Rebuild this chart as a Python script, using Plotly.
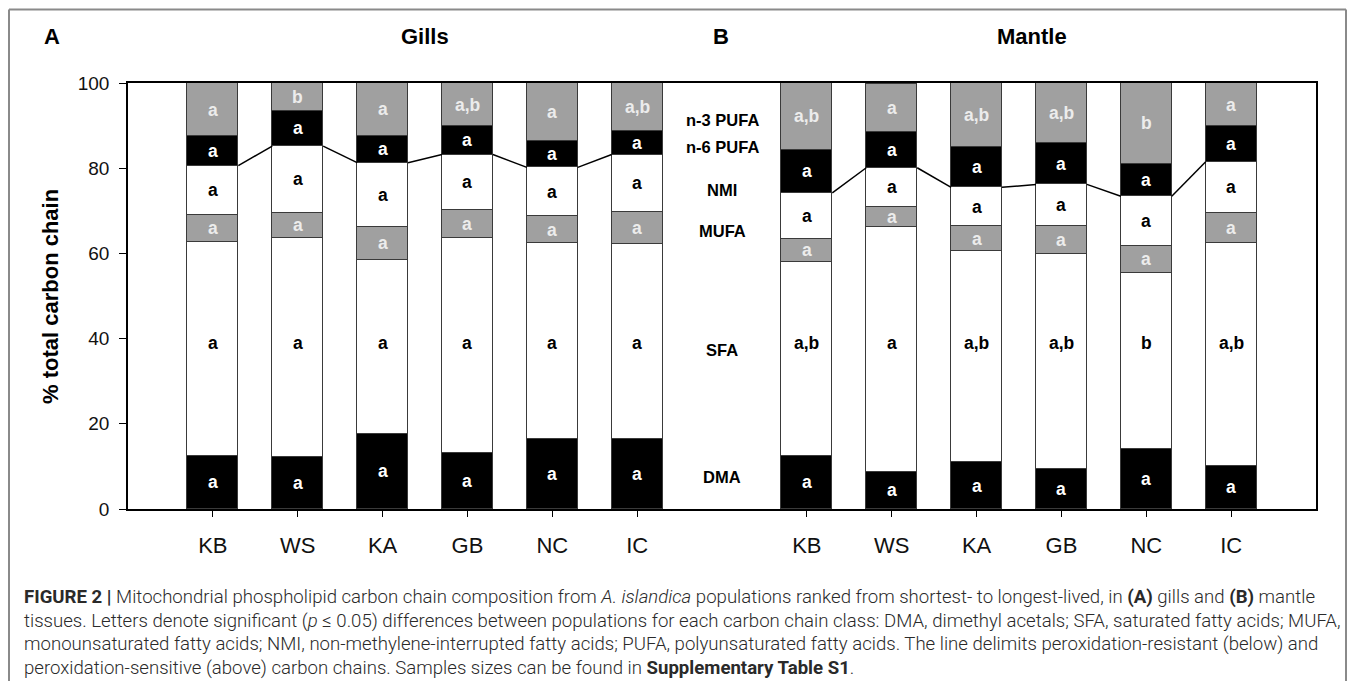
import plotly.graph_objects as go

populations = ["KB", "WS", "KA", "GB", "NC", "IC"]
classes = ["DMA", "SFA", "MUFA", "NMI", "n-6 PUFA", "n-3 PUFA"]

# Gills (% total carbon chain), bottom to top
gills_dma = [12.5, 12.1, 17.7, 13.2, 16.4, 16.4]
gills_sfa = [50.1, 51.6, 40.7, 50.5, 46.0, 45.8]
gills_mufa = [6.5, 5.8, 7.9, 6.5, 6.4, 7.6]
gills_nmi = [11.5, 15.7, 15.0, 13.0, 11.4, 13.4]
gills_n6 = [6.9, 8.3, 6.3, 6.7, 6.1, 5.6]
gills_n3 = [12.5, 6.5, 12.4, 10.1, 13.7, 11.2]

# Mantle
mantle_dma = [12.5, 8.8, 11.0, 9.5, 14.1, 10.2]
mantle_sfa = [45.5, 57.3, 49.5, 50.3, 41.3, 52.3]
mantle_mufa = [5.4, 4.8, 5.9, 6.6, 6.4, 7.0]
mantle_nmi = [10.8, 9.2, 9.1, 9.8, 11.6, 12.0]
mantle_n6 = [10.1, 8.5, 9.5, 9.6, 7.7, 8.4]
mantle_n3 = [15.7, 11.2, 15.0, 14.2, 18.9, 10.1]

# significance letters
gills_letters = {
    "DMA": ["a"] * 6, "SFA": ["a"] * 6, "MUFA": ["a"] * 6, "NMI": ["a"] * 6,
    "n-6 PUFA": ["a"] * 6, "n-3 PUFA": ["a", "b", "a", "a,b", "a", "a,b"],
}
mantle_letters = {
    "DMA": ["a"] * 6, "SFA": ["a,b", "a", "a,b", "a,b", "b", "a,b"],
    "MUFA": ["a"] * 6, "NMI": ["a"] * 6, "n-6 PUFA": ["a"] * 6,
    "n-3 PUFA": ["a,b", "a", "a,b", "a,b", "b", "a"],
}
class_label_y = {"n-3 PUFA": 91.2, "n-6 PUFA": 85.0, "NMI": 75.0, "MUFA": 65.2,
                 "SFA": 37.3, "DMA": 7.5}

gills = [gills_dma, gills_sfa, gills_mufa, gills_nmi, gills_n6, gills_n3]
mantle = [mantle_dma, mantle_sfa, mantle_mufa, mantle_nmi, mantle_n6, mantle_n3]

fills = {"DMA": "#000000", "SFA": "#ffffff", "MUFA": "#a0a0a0", "NMI": "#ffffff",
         "n-6 PUFA": "#000000", "n-3 PUFA": "#a0a0a0"}
txtcol = {"DMA": "#ffffff", "SFA": "#000000", "MUFA": "#ececec", "NMI": "#000000",
          "n-6 PUFA": "#ffffff", "n-3 PUFA": "#ececec"}

gx = [i + 1 for i in range(6)]
mx = [i + 8 for i in range(6)]
label_x = 7
BW = 0.6
FONT = "Liberation Sans, Arial, sans-serif"

OFF = 8  # page body margin
W, H = 1357 - 2 * OFF, 689 - 2 * OFF
L, T = 128 - OFF, 83 - OFF
R = (W + OFF) - 1316
B = (H + OFF) - 509
pw, ph = W - L - R, H - T - B


def px(xp):
    return (xp - OFF - L) / pw


def py(yp):
    return (H - B - (yp - OFF)) / ph


fig = go.Figure()
for k, cls in enumerate(classes):
    fig.add_trace(go.Bar(
        x=gx + mx, y=gills[k] + mantle[k], width=BW, name=cls,
        marker=dict(color=fills[cls], line=dict(color="#3a3a3a", width=1)),
        showlegend=False, hoverinfo="skip"))

ann = []
for data, xs, letters in ((gills, gx, gills_letters), (mantle, mx, mantle_letters)):
    for i in range(6):
        base = 0.0
        for k, cls in enumerate(classes):
            v = data[k][i]
            yc = base + v / 2 if cls != "SFA" else 39
            ann.append(dict(x=xs[i], y=yc, text="<b>%s</b>" % letters[cls][i],
                            showarrow=False, xref="x", yref="y",
                            font=dict(family=FONT, size=17.5, color=txtcol[cls])))
            base += v
    # delimiter line (top of NMI)
    tops = [sum(data[k][i] for k in range(4)) for i in range(6)]
    lx, ly = [], []
    for i in range(5):
        lx += [xs[i] + BW / 2, xs[i + 1] - BW / 2, None]
        ly += [tops[i], tops[i + 1], None]
    fig.add_trace(go.Scatter(x=lx, y=ly, mode="lines", line=dict(color="#000", width=1.5),
                             showlegend=False, hoverinfo="skip"))

for cls in classes:
    ann.append(dict(x=label_x, y=class_label_y[cls], text="<b>%s</b>" % cls, showarrow=False,
                    xref="x", yref="y", font=dict(family=FONT, size=16.5, color="#000")))

# panel titles
for txt, xp in (("A", 52), ("Gills", 425), ("B", 721), ("Mantle", 1032)):
    ann.append(dict(x=px(xp), y=py(36), xref="paper", yref="paper", text="<b>%s</b>" % txt,
                    showarrow=False, xanchor="center", yanchor="middle",
                    font=dict(family=FONT, size=22, color="#000")))

# y axis title
ann.append(dict(x=px(50), y=0.5, xref="paper", yref="paper", text="<b>% total carbon chain</b>",
                textangle=-90, showarrow=False, xanchor="center", yanchor="middle",
                font=dict(family=FONT, size=22, color="#000")))

caption = [
    "<b>FIGURE 2 |</b> Mitochondrial phospholipid carbon chain composition from <i>A. islandica</i> populations ranked from shortest- to longest-lived, in <b>(A)</b> gills and <b>(B)</b> mantle",
    "tissues. Letters denote significant (<i>p</i> \u2264 0.05) differences between populations for each carbon chain class: DMA, dimethyl acetals; SFA, saturated fatty acids; MUFA,",
    "monounsaturated fatty acids; NMI, non-methylene-interrupted fatty acids; PUFA, polyunsaturated fatty acids. The line delimits peroxidation-resistant (below) and",
    "peroxidation-sensitive (above) carbon chains. Samples sizes can be found in <b>Supplementary Table S1</b>.",
]
for j, line in enumerate(caption):
    ann.append(dict(x=px(22), y=py(597 + 23.7 * j), xref="paper", yref="paper", text=line,
                    showarrow=False, xanchor="left", yanchor="middle", align="left",
                    font=dict(family="Roboto, sans-serif", size=18.6, color="#2a2a2a", weight=300)))

frame = dict(color="#8a8a8a", width=2)
fx0, fx1, fy0, fy1 = px(9), px(1346), py(689), py(9.5)
shapes = [
    dict(type="line", xref="paper", yref="paper", x0=fx0, x1=fx1, y0=fy1, y1=fy1, line=frame, layer="above"),
    dict(type="line", xref="paper", yref="paper", x0=fx0, x1=fx0, y0=fy0, y1=fy1, line=frame, layer="above"),
    dict(type="line", xref="paper", yref="paper", x0=fx1, x1=fx1, y0=fy0, y1=fy1, line=frame, layer="above"),
]

fig.update_layout(
    width=W, height=H, margin=dict(l=L, r=R, t=T, b=B),
    barmode="stack", bargap=0, plot_bgcolor="#fff", paper_bgcolor="#fff",
    annotations=ann, shapes=shapes,
    xaxis=dict(range=[0, 14], tickvals=gx + mx, ticktext=populations + populations,
               showline=True, linecolor="#000", linewidth=1.5, mirror=True, showgrid=False,
               zeroline=False, ticks="outside", ticklen=6, tickcolor="#000",
               ticklabelstandoff=10, tickfont=dict(family=FONT, size=22, color="#111")),
    yaxis=dict(range=[0, 100], tickvals=[0, 20, 40, 60, 80, 100], showline=True,
               linecolor="#000", linewidth=1.5, mirror=True, showgrid=False, zeroline=False,
               ticks="outside", ticklen=7, tickcolor="#000", ticklabelstandoff=6,
               tickfont=dict(family=FONT, size=19, color="#111")),
)
fig.write_html("out.html")
